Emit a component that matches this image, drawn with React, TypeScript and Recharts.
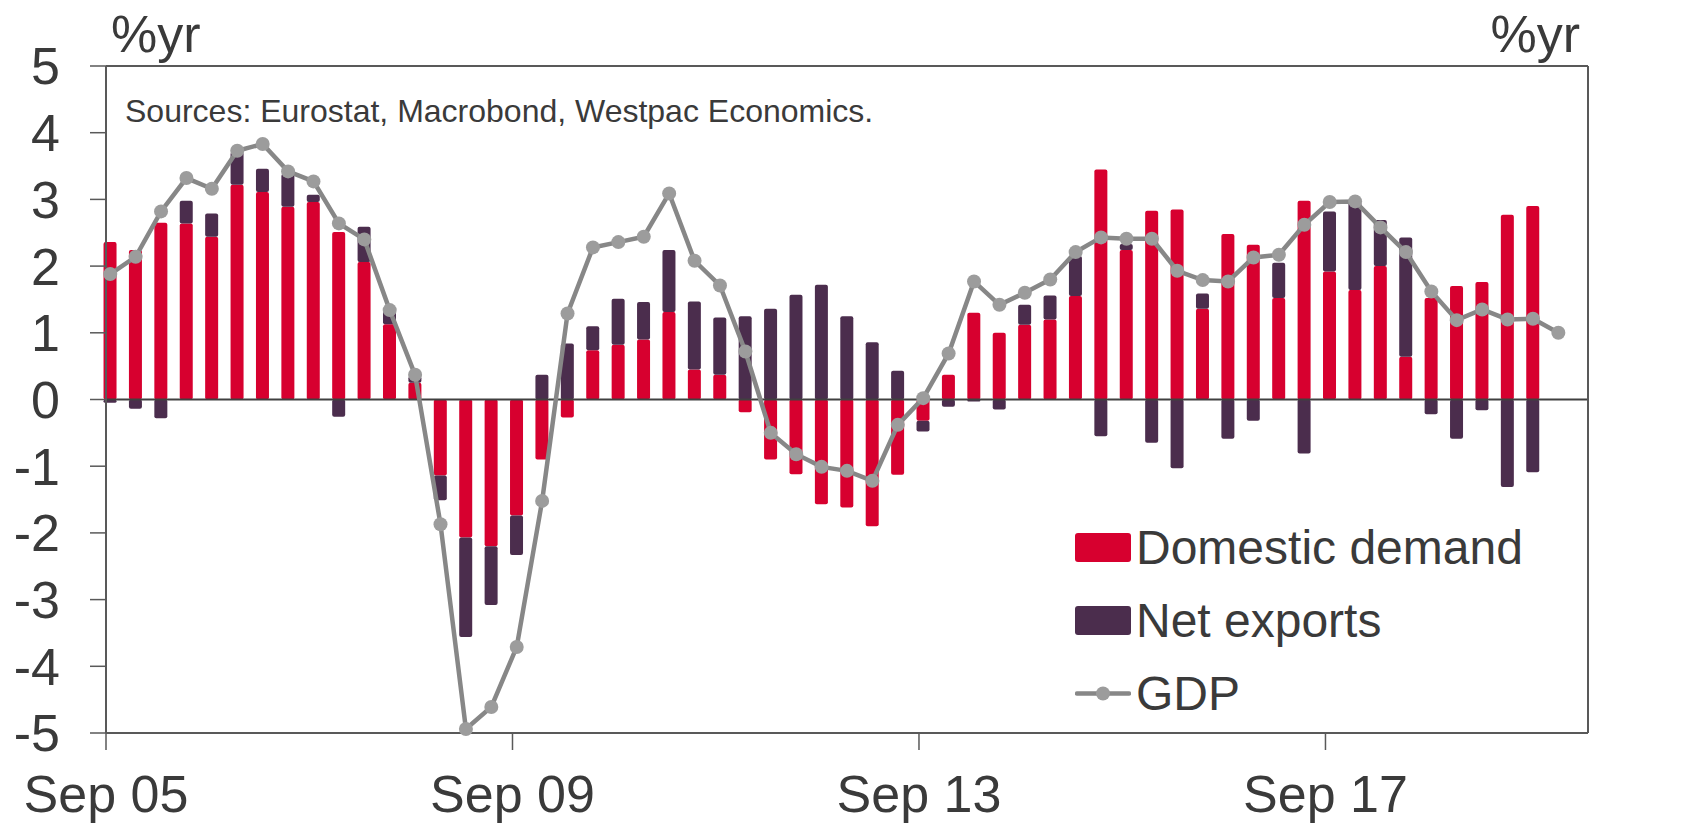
import React from "react";
import { ComposedChart, Bar, Line, XAxis, YAxis, ReferenceLine, Legend } from "recharts";

// quarterly, Sep 05 .. Dec 19, % yr contributions
const domesticDemand = [
  2.36, 2.24, 2.65, 2.64, 2.44, 3.22, 3.11, 2.89, 2.96, 2.51, 2.06, 1.13, 0.25,
  -1.14, -2.07, -2.2, -1.74, -0.9, -0.27, 0.74, 0.82, 0.9, 1.31, 0.45, 0.37,
  -0.19, -0.9, -1.12, -1.57, -1.62, -1.9, -1.13, -0.32, 0.37, 1.3, 1.0, 1.12,
  1.2, 1.55, 3.45, 2.24, 2.83, 2.85, 1.36, 2.48, 2.32, 1.52, 2.98, 1.92, 1.64,
  2.0, 0.64, 1.52, 1.7, 1.76, 2.77, 2.9, null,
];
const netExports = [
  -0.05, -0.14, -0.28, 0.34, 0.35, 0.49, 0.35, 0.49, 0.11, -0.26, 0.53, 0.2, 0.1,
  -0.37, -1.49, -0.88, -0.59, 0.37, 0.84, 0.36, 0.69, 0.56, 0.93, 1.02, 0.86,
  1.25, 1.36, 1.57, 1.72, 1.25, 0.86, 0.43, -0.16, -0.11, -0.03, -0.15, 0.3,
  0.36, 0.6, -0.55, 0.09, -0.65, -1.03, 0.23, -0.59, -0.32, 0.53, -0.81, 0.9,
  1.32, 0.69, 1.79, -0.22, -0.59, -0.16, -1.31, -1.09, null,
];
const gdp = [
  1.88, 2.14, 2.82, 3.32, 3.16, 3.73, 3.83, 3.42, 3.27, 2.64, 2.4, 1.34, 0.37,
  -1.87, -4.94, -4.61, -3.71, -1.52, 1.29, 2.28, 2.36, 2.44, 3.09, 2.08, 1.71,
  0.72, -0.5, -0.82, -1.01, -1.07, -1.22, -0.38, 0.02, 0.69, 1.77, 1.42, 1.6,
  1.8, 2.21, 2.43, 2.41, 2.41, 1.93, 1.79, 1.77, 2.13, 2.17, 2.62, 2.96, 2.97,
  2.58, 2.21, 1.62, 1.19, 1.35, 1.2, 1.21, 1.0,
];

// x axis in months from Sep 05
const tickMonths = [0, 48, 96, 144];
const tickLabels = ["Sep 05", "Sep 09", "Sep 13", "Sep 17"];
const yTicks = [-5, -4, -3, -2, -1, 0, 1, 2, 3, 4, 5];

const RED = "#d7002f";
const PURPLE = "#4b2d4d";
const GREY_LINE = "#878787";
const GREY_DOT = "#9c9c9c";
const TEXT = "#3a3a3a";
const AXIS = "#595959";
const FONT = '"Liberation Sans", Arial, sans-serif';

const data = gdp.map((g, i) => ({
  month: i * 3 + 0.5,
  domestic: domesticDemand[i],
  net: netExports[i],
  gdp: g,
}));

const legendItems = [
  { name: "Domestic demand", color: RED, kind: "bar" },
  { name: "Net exports", color: PURPLE, kind: "bar" },
  { name: "GDP", color: GREY_LINE, kind: "line" },
];

function renderLegend() {
  return (
    <div style={{ fontFamily: FONT }}>
      {legendItems.map((it) => (
        <div key={it.name} style={{ display: "flex", alignItems: "center", height: 73 }}>
          {it.kind === "bar" ? (
            <div style={{ width: 56, height: 29, background: it.color, borderRadius: 3 }} />
          ) : (
            <svg width={56} height={29}>
              <line x1={2} y1={14.5} x2={54} y2={14.5} stroke={GREY_LINE} strokeWidth={4.5} strokeLinecap="round" />
              <circle cx={28} cy={14.5} r={7} fill={GREY_DOT} />
            </svg>
          )}
          <span style={{ marginLeft: 5, fontSize: 48, color: TEXT, whiteSpace: "nowrap" }}>{it.name}</span>
        </div>
      ))}
    </div>
  );
}

export default function App() {
  const tickStyle = { fill: TEXT, fontSize: 52, fontFamily: FONT };
  return (
    <div style={{ position: "absolute", left: 0, top: 0, background: "#fff" }}>
      <ComposedChart
        width={1685}
        height={825}
        data={data}
        stackOffset="sign"
        margin={{ top: 66, right: 0, bottom: 0, left: 0 }}
        style={{ fontFamily: FONT }}
      >
        <XAxis
          dataKey="month"
          type="number"
          domain={[0, 175]}
          ticks={tickMonths}
          tickFormatter={(v) => tickLabels[tickMonths.indexOf(v)] ?? ""}
          height={92}
          tick={tickStyle}
          tickSize={17}
          tickMargin={25}
          axisLine={{ stroke: AXIS, strokeWidth: 2 }}
          tickLine={{ stroke: AXIS, strokeWidth: 1.5 }}
          interval={0}
        />
        <YAxis
          yAxisId="left"
          domain={[-5, 5]}
          ticks={yTicks}
          width={106}
          tick={tickStyle}
          tickSize={16}
          tickMargin={30}
          axisLine={{ stroke: AXIS, strokeWidth: 2 }}
          tickLine={{ stroke: AXIS, strokeWidth: 1.5 }}
          interval={0}
        />
        <YAxis
          yAxisId="right"
          orientation="right"
          domain={[-5, 5]}
          ticks={yTicks}
          width={97}
          tick={tickStyle}
          tickSize={16}
          tickMargin={30}
          axisLine={{ stroke: AXIS, strokeWidth: 2 }}
          tickLine={{ stroke: AXIS, strokeWidth: 1.5 }}
          interval={0}
        />
        <ReferenceLine yAxisId="left" y={5} stroke={AXIS} strokeWidth={2} />
        <ReferenceLine yAxisId="left" y={0} stroke="#404040" strokeWidth={2} />
        <Bar yAxisId="left" dataKey="domestic" stackId="s" fill={RED} barSize={13} radius={2} isAnimationActive={false} />
        <Bar yAxisId="left" dataKey="net" stackId="s" fill={PURPLE} barSize={13} radius={2} isAnimationActive={false} />
        <Line
          yAxisId="left"
          dataKey="gdp"
          stroke={GREY_LINE}
          strokeWidth={4.5}
          dot={{ r: 7, fill: GREY_DOT, stroke: GREY_DOT, strokeWidth: 0 }}
          isAnimationActive={false}
        />
        <Legend
          layout="vertical"
          align="center"
          verticalAlign="middle"
          content={renderLegend}
          wrapperStyle={{ left: 1075, top: 511, width: "auto" }}
        />
        <text x={111} y={52} fontSize={52} fill={TEXT} fontFamily={FONT}>%yr</text>
        <text x={1580} y={52} fontSize={52} fill={TEXT} fontFamily={FONT} textAnchor="end">%yr</text>
        <text x={125} y={122} fontSize={32} fill={TEXT} fontFamily={FONT}>
          Sources: Eurostat, Macrobond, Westpac Economics.
        </text>
      </ComposedChart>
    </div>
  );
}
